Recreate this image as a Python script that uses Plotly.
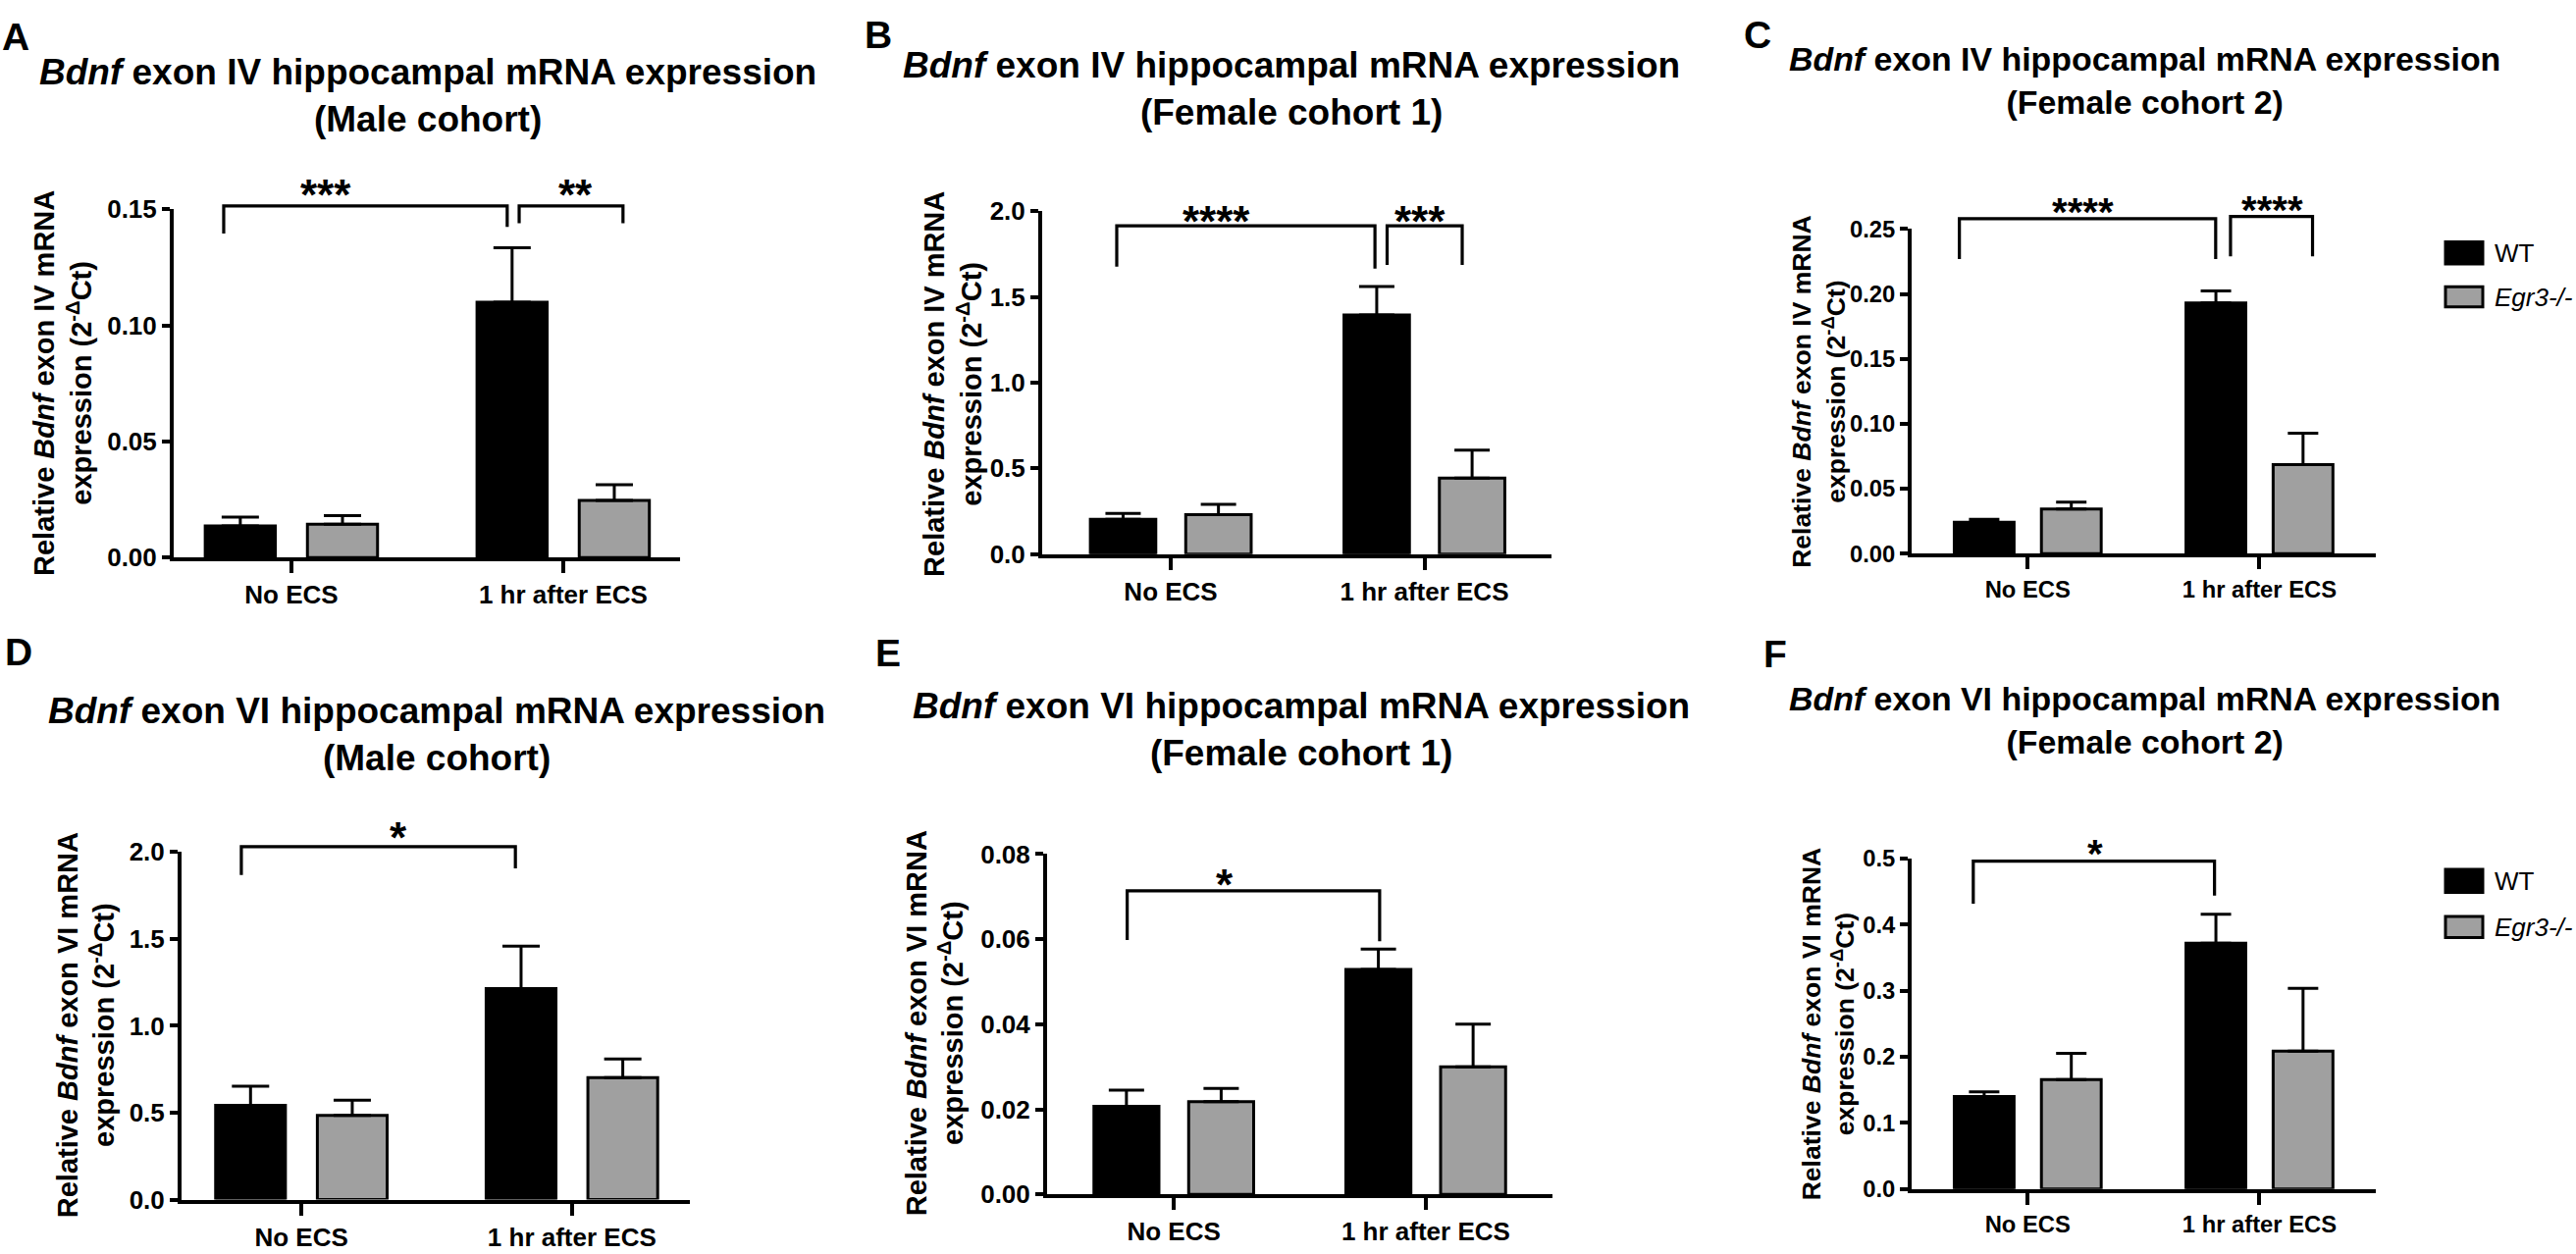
import plotly.graph_objects as go

W, H = 2625, 1278
FONT = "Liberation Sans, Arial, Helvetica, sans-serif"

categories = ["No ECS", "1 hr after ECS"]
group_names = ["WT", "<i>Egr3-/-</i>"]
group_colors = ["#000000", "#a0a0a0"]

# exon IV, male cohort
a_wt = [0.0136, 0.110]
a_wt_sem = [0.0038, 0.0234]
a_ko = [0.0143, 0.0246]
a_ko_sem = [0.0037, 0.0068]
a_stars = ["***", "**"]

# exon IV, female cohort 1
b_wt = [0.204, 1.394]
b_wt_sem = [0.034, 0.166]
b_ko = [0.231, 0.443]
b_ko_sem = [0.059, 0.164]
b_stars = ["****", "***"]

# exon IV, female cohort 2
c_wt = [0.0241, 0.1931]
c_wt_sem = [0.0024, 0.0093]
c_ko = [0.0343, 0.0686]
c_ko_sem = [0.0054, 0.0242]
c_stars = ["****", "****"]

# exon VI, male cohort
d_wt = [0.542, 1.214]
d_wt_sem = [0.110, 0.244]
d_ko = [0.485, 0.702]
d_ko_sem = [0.087, 0.107]
d_stars = ["*"]

# exon VI, female cohort 1
e_wt = [0.0207, 0.0529]
e_wt_sem = [0.0038, 0.0048]
e_ko = [0.0218, 0.0300]
e_ko_sem = [0.0031, 0.0100]
e_stars = ["*"]

# exon VI, female cohort 2
f_wt = [0.140, 0.372]
f_wt_sem = [0.007, 0.044]
f_ko = [0.1655, 0.2086]
f_ko_sem = [0.040, 0.095]
f_stars = ["*"]


def px(x):
    return x / W


def py(y):
    return 1 - y / H


def title_text(exon, cohort):
    return f"<b><i>Bdnf</i> exon {exon} hippocampal mRNA expression<br>({cohort})</b>"


def ytitle_text(exon):
    return f"<b>Relative <i>Bdnf</i> exon {exon} mRNA<br>expression (2<sup>-Δ</sup>Ct)</b>"


# layout of each panel (pixel boxes, brackets in axis units)
panels = [
    dict(letter="A", lx=0, ly=23, exon="IV", cohort="Male cohort", tx=436, ty=84,
         yx=64, yy=385, box=(177, 693, 203, 566.5), xr=[-0.433, 1.430],
         ymax=0.15, dtick=0.05, fmt=".2f", s=1.0, ew=19,
         wt=a_wt, wt_sem=a_wt_sem, ko=a_ko, ko_sem=a_ko_sem, stars=a_stars,
         brackets=[(-0.249, 0.794, 0.1514, 0.1395, 0.1424, 0.126, 0.1616),
                   (0.838, 1.220, 0.1514, 0.1440, 0.1440, 1.047, 0.1616)]),
    dict(letter="B", lx=879, ly=21, exon="IV", cohort="Female cohort 1", tx=1316, ty=77,
         yx=971, yy=386, box=(1062, 1581, 205, 563), xr=[-0.507, 1.501],
         ymax=2.0, dtick=0.5, fmt=".1f", s=1.0, ew=18,
         wt=b_wt, wt_sem=b_wt_sem, ko=b_ko, ko_sem=b_ko_sem, stars=b_stars,
         brackets=[(-0.213, 0.805, 1.914, 1.676, 1.665, 0.178, 2.016),
                   (0.853, 1.149, 1.914, 1.687, 1.687, 0.983, 2.016)]),
    dict(letter="C", lx=1775, ly=21, exon="IV", cohort="Female cohort 2", tx=2185, ty=69,
         yx=1853, yy=393, box=(1948, 2421, 223.7, 562.4), xr=[-0.501, 1.502],
         ymax=0.25, dtick=0.05, fmt=".2f", s=0.915, ew=15.5,
         wt=c_wt, wt_sem=c_wt_sem, ko=c_ko, ko_sem=c_ko_sem, stars=c_stars,
         brackets=[(-0.295, 0.811, 0.258, 0.227, 0.227, 0.239, 0.272),
                   (0.875, 1.229, 0.2597, 0.229, 0.229, 1.057, 0.273)]),
    dict(letter="D", lx=3, ly=665, exon="VI", cohort="Male cohort", tx=445, ty=751,
         yx=88, yy=1055, box=(185, 703, 873.8, 1236.6), xr=[-0.443, 1.436],
         ymax=2.0, dtick=0.5, fmt=".1f", s=1.0, ew=19,
         wt=d_wt, wt_sem=d_wt_sem, ko=d_ko, ko_sem=d_ko_sem, stars=d_stars,
         brackets=[(-0.222, 0.791, 2.03, 1.868, 1.905, 0.359, 2.159)]),
    dict(letter="E", lx=890, ly=666, exon="VI", cohort="Female cohort 1", tx=1326, ty=746,
         yx=953, yy=1053, box=(1067, 1582, 876, 1231.2), xr=[-0.503, 1.503],
         ymax=0.08, dtick=0.02, fmt=".2f", s=1.0, ew=18,
         wt=e_wt, wt_sem=e_wt_sem, ko=e_ko, ko_sem=e_ko_sem, stars=e_stars,
         brackets=[(-0.185, 0.817, 0.07135, 0.0598, 0.0595, 0.201, 0.0758)]),
    dict(letter="F", lx=1795, ly=667, exon="VI", cohort="Female cohort 2", tx=2185, ty=736,
         yx=1863, yy=1053, box=(1948, 2421, 880.8, 1225.5), xr=[-0.501, 1.502],
         ymax=0.5, dtick=0.1, fmt=".1f", s=0.915, ew=15.5,
         wt=f_wt, wt_sem=f_wt_sem, ko=f_ko, ko_sem=f_ko_sem, stars=f_stars,
         brackets=[(-0.235, 0.806, 0.4964, 0.432, 0.444, 0.29, 0.525)]),
]

# legend boxes next to panels C and F (pixel positions)
legends = [dict(x0=2492, x1=2530, rows=[(237, 260), (284, 305)], tx=2540, fs=26),
           dict(x0=2492, x1=2530, rows=[(892, 916), (941, 963)], tx=2540, fs=26)]

BAR_W = 0.258
BAR_OFF = 0.188

fig = go.Figure()
annotations = []
shapes = []
layout = {}

for i, p in enumerate(panels, start=1):
    xref = "x" if i == 1 else f"x{i}"
    yref = "y" if i == 1 else f"y{i}"
    s = p["s"]
    x0, x1, ytop, ybot = p["box"]
    ym = p["ymax"]

    for vals, sem, color, off in [(p["wt"], p["wt_sem"], group_colors[0], -BAR_OFF),
                                  (p["ko"], p["ko_sem"], group_colors[1], BAR_OFF)]:
        fig.add_trace(go.Bar(
            x=[0, 1], y=vals, width=BAR_W, offset=off - BAR_W / 2,
            marker=dict(color=color, line=dict(color="black", width=3)),
            error_y=dict(type="data", array=sem, arrayminus=[0, 0], symmetric=False,
                         color="black", thickness=3, width=p["ew"]),
            xaxis=xref, yaxis=yref, showlegend=False, hoverinfo="skip"))

    axfont = dict(family=FONT, size=26 * s, color="black", weight="bold")
    layout["xaxis" if i == 1 else f"xaxis{i}"] = dict(
        domain=[px(x0), px(x1)], range=p["xr"], anchor=yref,
        tickmode="array", tickvals=[0, 1], ticktext=categories,
        showline=True, linewidth=4, linecolor="black", mirror=False,
        ticks="outside", ticklen=12, tickwidth=4, tickcolor="black",
        tickfont=axfont, showgrid=False, zeroline=False, fixedrange=True)
    layout["yaxis" if i == 1 else f"yaxis{i}"] = dict(
        domain=[py(ybot), py(ytop)], range=[0, ym], anchor=xref,
        dtick=p["dtick"], tick0=0, tickformat=p["fmt"],
        showline=True, linewidth=4, linecolor="black",
        ticks="outside", ticklen=8, tickwidth=4, tickcolor="black",
        tickfont=axfont, showgrid=False, zeroline=False, fixedrange=True)

    # significance brackets (drawn on the axis domain so they may sit above the range)
    for (bx0, bx1, btop, bl, br, sx, sy), star in zip(p["brackets"], p["stars"]):
        shapes.append(dict(type="path", xref=xref, yref=f"{yref} domain",
                           path=f"M {bx0},{bl / ym} L {bx0},{btop / ym} L {bx1},{btop / ym} L {bx1},{br / ym}",
                           line=dict(color="black", width=3.2)))
        annotations.append(dict(x=sx, y=sy / ym, xref=xref, yref=f"{yref} domain", text=f"<b>{star}</b>",
                                showarrow=False, xanchor="center", yanchor="middle", yshift=-13 * s,
                                font=dict(family=FONT, size=44 * s, color="black")))

    # panel letter, title, y title
    annotations.append(dict(x=px(p["lx"]), y=py(p["ly"]), xref="paper", yref="paper",
                            text=f"<b>{p['letter']}</b>", showarrow=False, xanchor="left", yanchor="middle",
                            font=dict(family=FONT, size=39, color="black")))
    annotations.append(dict(x=px(p["tx"]), y=py(p["ty"]), xref="paper", yref="paper",
                            text=title_text(p["exon"], p["cohort"]), showarrow=False,
                            xanchor="center", yanchor="middle", align="center",
                            font=dict(family=FONT, size=37 * (0.916 if s < 1 else 1), color="black")))
    annotations.append(dict(x=px(p["yx"]), y=py(p["yy"]), xref="paper", yref="paper",
                            text=ytitle_text(p["exon"]), showarrow=False, textangle=-90,
                            xanchor="center", yanchor="middle", align="center",
                            font=dict(family=FONT, size=29 * s, color="black")))

# legends
for lg in legends:
    for (r0, r1), name, color in zip(lg["rows"], group_names, group_colors):
        shapes.append(dict(type="rect", xref="paper", yref="paper",
                           x0=px(lg["x0"]), x1=px(lg["x1"]), y0=py(r1), y1=py(r0),
                           fillcolor=color, line=dict(color="black", width=3)))
        annotations.append(dict(x=px(lg["tx"]), y=py((r0 + r1) / 2), xref="paper", yref="paper",
                                text=name, showarrow=False, xanchor="left", yanchor="middle",
                                font=dict(family=FONT, size=lg["fs"], color="black")))

fig.update_layout(**layout)
fig.update_layout(
    width=W, height=H, margin=dict(l=0, r=0, t=0, b=0),
    paper_bgcolor="white", plot_bgcolor="white",
    barmode="overlay", showlegend=False,
    annotations=annotations, shapes=shapes,
)

fig.write_html("out.html", config={"displayModeBar": False},
               post_script="document.body.style.margin='0';document.body.style.overflow='hidden';")
